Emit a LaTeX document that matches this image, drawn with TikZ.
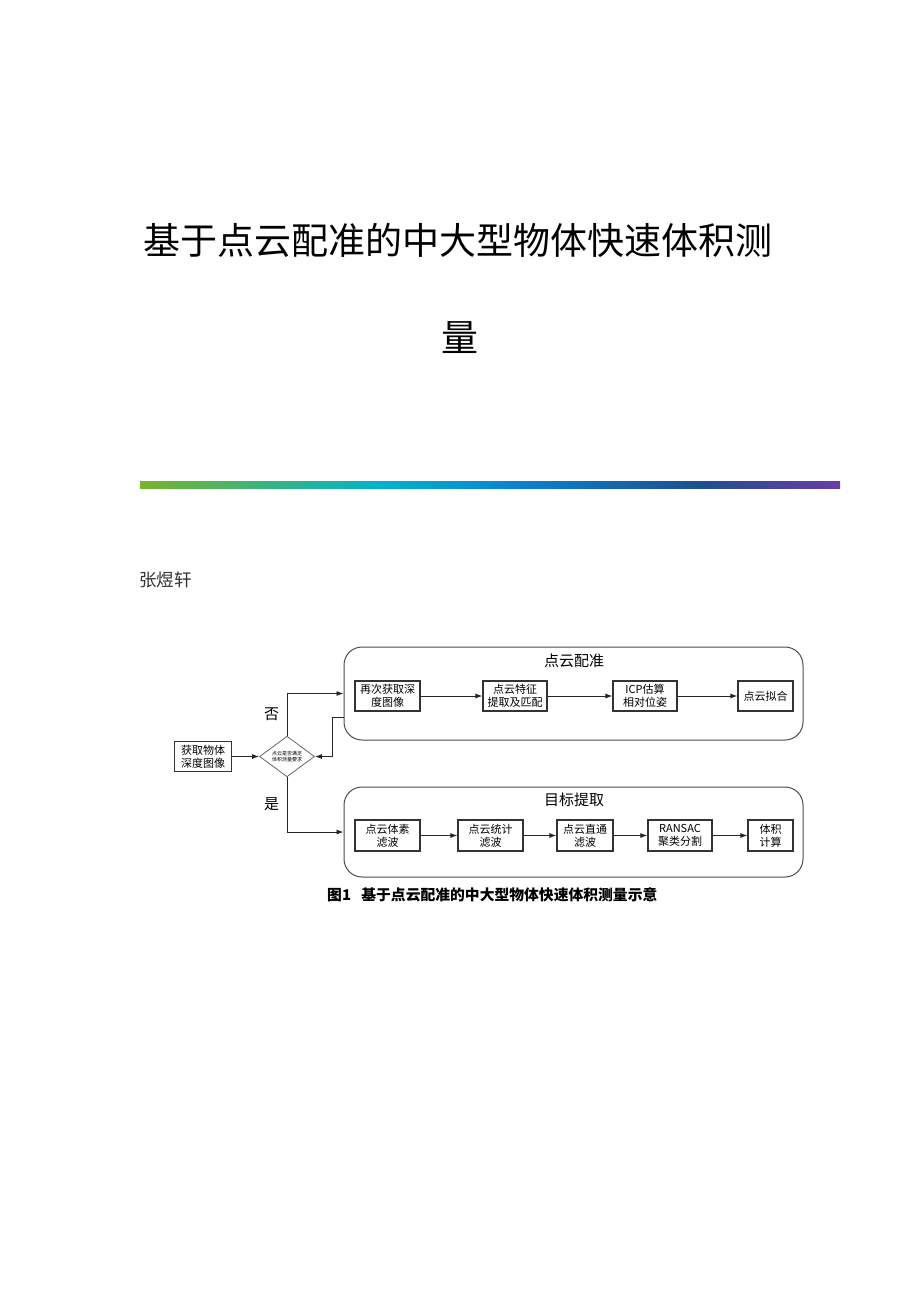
\documentclass[tikz,border=0pt]{standalone}
\usepackage{fontspec}
\setmainfont{Noto Sans CJK SC}
\usepackage{xcolor}
\usetikzlibrary{shapes.geometric,arrows.meta}
\definecolor{barg}{HTML}{78B42A}
\definecolor{barc}{HTML}{00B4CC}
\definecolor{barb}{HTML}{0A82CF}
\definecolor{bard}{HTML}{1F4F8F}
\definecolor{barp}{HTML}{6A3CA8}
\pgfdeclarehorizontalshading{titlebar}{100bp}{color(0bp)=(barg); color(25bp)=(barg); color(42bp)=(barc); color(52bp)=(barb); color(65bp)=(bard); color(75bp)=(barp); color(100bp)=(barp)}
\tikzset{
	box/.style={draw=black!80, line width=1.2pt, inner sep=1pt, align=center, minimum height=30pt, font=\fontsize{11}{13}\selectfont},
	group/.style={draw=black!70, line width=1pt, rounded corners=18pt, inner sep=0pt},
	judge/.style={diamond, draw=black!60, line width=0.8pt, inner sep=0pt, minimum width=55pt, minimum height=40pt, align=center, font=\fontsize{5}{6}\selectfont},
	flow/.style={-{Latex[length=7pt, width=5pt]}, draw=black!85, line width=0.9pt}
}

\begin{document}
\begin{tikzpicture}[x=1pt, y=-1pt]
		\fill[white] (0,0) rectangle (920,1302);
		\useasboundingbox (0,0) rectangle (920,1302);
		% heading
		\node[anchor=west, inner sep=0pt, font=\fontsize{37}{40}\selectfont] (title1) at (143,240) {基于点云配准的中大型物体快速体积测};
		\node[inner sep=0pt, font=\fontsize{37}{40}\selectfont] (title2) at (460,338) {量};
		\shade[shading=titlebar] (140,481) rectangle (840,488);
		\node[anchor=west, inner sep=0pt, text=black!80, font=\fontsize{17.5}{20}\selectfont] (author) at (139,580) {张煜轩};
		% flow chart
		\node[group, minimum width=459pt, minimum height=93pt] (reg) at (573.5,693.5) {};
		\node[group, minimum width=459pt, minimum height=90pt] (ext) at (573.5,832) {};
		\node[font=\fontsize{15}{17}\selectfont] (regtitle) at (574,661) {点云配准};
		\node[font=\fontsize{15}{17}\selectfont] (exttitle) at (574,800) {目标提取};
		\node[box, minimum width=57pt] (get) at (203,756.5) {获取物体\\深度图像};
		\node[judge] (ask) at (287,756.5) {点云是否满足\\体积测量要求};
		\node[box, minimum width=65pt] (reg1) at (387.5,696) {再次获取深\\度图像};
		\node[box, minimum width=64pt] (reg2) at (515,696) {点云特征\\提取及匹配};
		\node[box, minimum width=64pt] (reg3) at (645,696) {ICP估算\\相对位姿};
		\node[box, minimum width=55pt] (reg4) at (765.5,696) {点云拟合};
		\node[box, minimum width=65pt, minimum height=31pt] (ext1) at (387.5,835.5) {点云体素\\滤波};
		\node[box, minimum width=65pt, minimum height=31pt] (ext2) at (490.5,835.5) {点云统计\\滤波};
		\node[box, minimum width=56pt, minimum height=31pt] (ext3) at (585,835.5) {点云直通\\滤波};
		\node[box, minimum width=64pt, minimum height=31pt] (ext4) at (680,835.5) {RANSAC\\聚类分割};
		\node[box, minimum width=45pt, minimum height=31pt] (ext5) at (770.5,835.5) {体积\\计算};
		\coordinate (back) at (332,717);
		\draw[flow] (get) -- (ask.west);
		\draw[flow] (ask.north) |- (reg.west) node[pos=0.25, left=4pt, font=\fontsize{15}{17}\selectfont]{否};
		\draw[flow] ([yshift=-23.5pt]reg.west) -- (back) |- (ask.east);
		\draw[flow] (ask.south) |- (ext.west) node[pos=0.25, left=4pt, font=\fontsize{15}{17}\selectfont]{是};
		\draw[flow] (reg1) -- (reg2);
		\draw[flow] (reg2) -- (reg3);
		\draw[flow] (reg3) -- (reg4);
		\draw[flow] (ext1) -- (ext2);
		\draw[flow] (ext2) -- (ext3);
		\draw[flow] (ext3) -- (ext4);
		\draw[flow] (ext4) -- (ext5);
		\node[anchor=west, inner sep=0pt, font=\fontsize{14.8}{17}\selectfont\bfseries] (caption) at (327,895) {图1\hspace{0.7em}基于点云配准的中大型物体快速体积测量示意};
	\end{tikzpicture}
\end{document}
